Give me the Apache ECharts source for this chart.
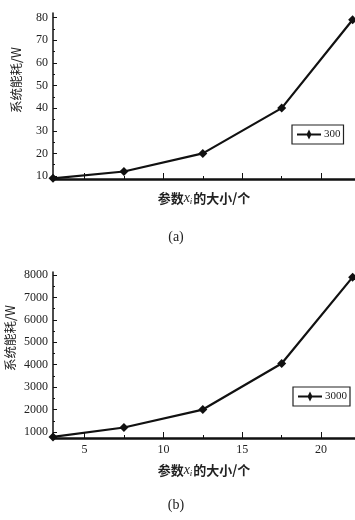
<!DOCTYPE html>
<html>
<head>
<meta charset="utf-8">
<script src="https://cdn.jsdelivr.net/npm/echarts@6/dist/echarts.min.js"></script>
<style>
html,body{margin:0;padding:0;background:#fff;}
#c{width:355px;height:520px;}
</style>
</head>
<body>
<div id="c"></div>
<script>
// Parameter x_i values (shared by both panels)
const xValues = [3, 7.5, 12.5, 17.5, 22];
// Panel (a): energy consumption, series "300"
const energyA = [9, 12, 20, 40, 79];
// Panel (b): energy consumption, series "3000"
const energyB = [780, 1200, 2000, 4050, 7900];

const seriesNames = ['300', '3000'];
const yTicksA = [10, 20, 30, 40, 50, 60, 70, 80];
const yMinorA = [15, 25, 35, 45, 55, 65, 75];
const yTicksB = [1000, 2000, 3000, 4000, 5000, 6000, 7000, 8000];
const yMinorB = [1500, 2500, 3500, 4500, 5500, 6500, 7500];
const xTicks = [5, 10, 15, 20];
const xMinor = [7.5, 12.5, 17.5];

const serif = '"Liberation Serif", "DejaVu Serif", serif';
const cjk = '"Noto Sans CJK SC", sans-serif';

const nameRich = {
  a: { fontFamily: cjk, fontSize: 13, fontWeight: 'bold', color: '#222' },
  x: { fontFamily: serif, fontSize: 14, fontStyle: 'italic', color: '#222' },
  s: { fontFamily: serif, fontSize: 9, fontStyle: 'italic', color: '#222', padding: [7, 1, 0, 0] }
};

function xAxisPair(gridIndex, showLabels) {
  const base = {
    type: 'value', gridIndex, min: 3, max: 22.15,
    position: 'bottom',
    splitLine: { show: false }
  };
  return [
    Object.assign({}, base, {
      axisLine: { lineStyle: { color: '#111', width: 2.5 } },
      axisTick: { inside: true, length: 6, customValues: xTicks, lineStyle: { color: '#111', width: 1 } },
      axisLabel: { show: showLabels, customValues: xTicks, color: '#222', fontFamily: serif, fontSize: 12, margin: 6 },
      name: '{a|参数}{x|x}{s|i}{a|的大小/个}',
      nameLocation: 'middle',
      nameGap: showLabels ? 24 : 11,
      nameTextStyle: { rich: nameRich }
    }),
    Object.assign({}, base, {
      axisLine: { show: false },
      axisTick: { inside: true, length: 3, customValues: xMinor, lineStyle: { color: '#111', width: 1 } },
      axisLabel: { show: false, customValues: xMinor }
    })
  ];
}

function yAxisPair(gridIndex, min, max, ticks, minor) {
  const base = { type: 'value', gridIndex, min, max, position: 'left', splitLine: { show: false } };
  return [
    Object.assign({}, base, {
      axisLine: { show: true, lineStyle: { color: '#111', width: 1.5 } },
      axisTick: { show: true, inside: true, length: 4, customValues: ticks, lineStyle: { color: '#111' } },
      axisLabel: {
        customValues: ticks, color: '#222', fontFamily: serif, fontSize: 12, margin: 5,
        formatter: v => String(v)
      }
    }),
    Object.assign({}, base, {
      axisLine: { show: false },
      axisTick: { show: true, inside: true, length: 2, customValues: minor, lineStyle: { color: '#111' } },
      axisLabel: { show: false, customValues: minor }
    })
  ];
}

function lineSeries(name, values, gridIdx) {
  return {
    name, type: 'line',
    xAxisIndex: gridIdx * 2, yAxisIndex: gridIdx * 2,
    data: xValues.map((x, i) => [x, values[i]]),
    symbol: 'diamond', symbolSize: 9,
    lineStyle: { color: '#111', width: 2.2 },
    itemStyle: { color: '#111' },
    clip: false,
    animation: false
  };
}

const legendBase = {
  orient: 'horizontal',
  itemWidth: 24, itemHeight: 10, itemGap: 4,
  borderColor: '#222', borderWidth: 1.2, borderRadius: 0,
  padding: [4, 3, 4, 5],
  textStyle: { fontFamily: serif, fontSize: 11, color: '#222', padding: [0, 0, 0, -2] },
  icon: 'path://M0,4 L10,4 L12,0 L14,4 L24,4 L24,6 L14,6 L12,10 L10,6 L0,6 Z'
};

const chart = echarts.init(document.getElementById('c'), null, { renderer: 'canvas' });
chart.setOption({
  backgroundColor: '#fff',
  animation: false,
  grid: [
    { left: 53, right: 0, top: 13, height: 166 },
    { left: 53, right: 0, top: 272, height: 166 }
  ],
  xAxis: [...xAxisPair(0, false), ...xAxisPair(1, true)],
  yAxis: [...yAxisPair(0, 8.7, 82, yTicksA, yMinorA), ...yAxisPair(1, 733, 8130, yTicksB, yMinorB)],
  legend: [
    Object.assign({}, legendBase, { data: [seriesNames[0]], left: 292, top: 125 }),
    Object.assign({}, legendBase, { data: [seriesNames[1]], left: 293, top: 387 })
  ],
  series: [
    lineSeries(seriesNames[0], energyA, 0),
    lineSeries(seriesNames[1], energyB, 1)
  ],
  graphic: [
    { type: 'text', x: 16, y: 80, rotation: Math.PI / 2, style: { text: '系统能耗/W', fontFamily: cjk, fontSize: 12.5, fill: '#222', align: 'center', verticalAlign: 'middle' } },
    { type: 'text', x: 10, y: 338, rotation: Math.PI / 2, style: { text: '系统能耗/W', fontFamily: cjk, fontSize: 12.5, fill: '#222', align: 'center', verticalAlign: 'middle' } },
    { type: 'text', x: 176, y: 237, style: { text: '(a)', fontFamily: serif, fontSize: 14, fill: '#222', align: 'center', verticalAlign: 'middle' } },
    { type: 'text', x: 176, y: 505, style: { text: '(b)', fontFamily: serif, fontSize: 14, fill: '#222', align: 'center', verticalAlign: 'middle' } }
  ]
});
</script>
</body>
</html>
